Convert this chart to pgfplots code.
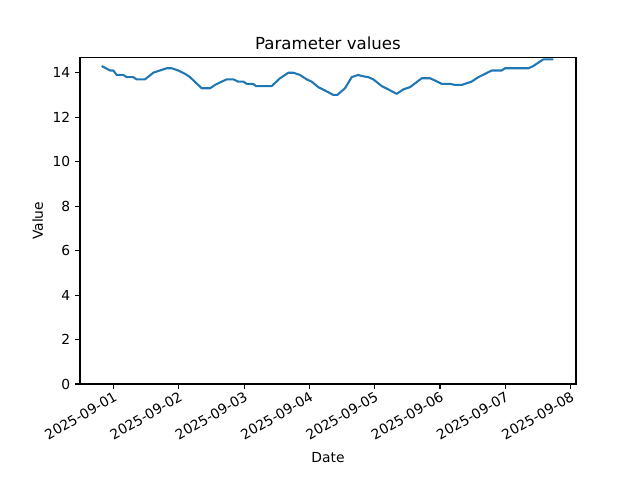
\documentclass[border=0pt]{standalone}
\usepackage{pgfplots}
\pgfplotsset{compat=1.18}
\usepackage{fontspec}
\setmainfont{DejaVu Sans}
\definecolor{tabblue}{HTML}{1F77B4}
\begin{document}
\begin{tikzpicture}
\path[use as bounding box] (0,0) rectangle (6.4in,4.8in);
\begin{axis}[
  at={(0.8in,0.96in)}, anchor=south west,
  scale only axis, width=4.96in, height=3.264in,
  xmin=-0.513, xmax=7.083, ymin=0, ymax=14.68,
  xtick={0,1,2,3,4,5,6,7},
  xticklabels={2025-09-01,2025-09-02,2025-09-03,2025-09-04,2025-09-05,2025-09-06,2025-09-07,2025-09-08},
  xticklabel style={rotate=30, anchor=north east, inner sep=1pt, font=\fontsize{10}{12}\selectfont},
  ytick={0,2,4,6,8,10,12,14},
  yticklabel style={font=\fontsize{10}{12}\selectfont},
  /pgf/number format/assume math mode=true,
  tick align=outside, tick pos=left,
  major tick length=3.5pt,
  every tick/.style={black, line width=0.8pt},
  axis line style={line width=0.8pt},
  title={Parameter values},
  title style={font=\fontsize{12}{14}\selectfont, yshift=-3.5pt},
  xlabel={Date}, ylabel={Value},
  label style={font=\fontsize{10}{12}\selectfont},
  xlabel style={yshift=-4pt},
  ylabel style={yshift=0pt},
]
\addplot[color=tabblue, line width=1.5pt, line join=round] coordinates {
(-0.181,14.3) (-0.115,14.2) (-0.054,14.1) (-0.003,14.1) (0.049,13.9) (0.150,13.9)
(0.202,13.8) (0.303,13.8) (0.355,13.7) (0.482,13.7) (0.609,14.0) (0.712,14.1)
(0.815,14.2) (0.891,14.2) (0.992,14.1) (1.095,13.95) (1.172,13.8) (1.351,13.3)
(1.478,13.3) (1.554,13.45) (1.657,13.6) (1.734,13.7) (1.835,13.7) (1.911,13.6)
(1.988,13.6) (2.040,13.5) (2.136,13.5) (2.182,13.4) (2.423,13.4) (2.550,13.75)
(2.677,14.0) (2.753,14.0) (2.856,13.9) (2.959,13.7) (3.035,13.6) (3.136,13.35)
(3.239,13.2) (3.366,13.0) (3.427,13.0) (3.545,13.3) (3.648,13.8) (3.749,13.9)
(3.801,13.85) (3.902,13.8) (3.979,13.7) (4.107,13.4) (4.208,13.25) (4.337,13.05)
(4.438,13.25) (4.541,13.35) (4.720,13.75) (4.847,13.75) (4.923,13.65) (5.026,13.5)
(5.153,13.5) (5.230,13.45) (5.332,13.45) (5.383,13.5) (5.485,13.6) (5.587,13.8)
(5.690,13.95) (5.792,14.1) (5.945,14.1) (5.995,14.2) (6.352,14.2) (6.429,14.3)
(6.505,14.45) (6.582,14.6) (6.735,14.6)
};
\end{axis}
\end{tikzpicture}
\end{document}
